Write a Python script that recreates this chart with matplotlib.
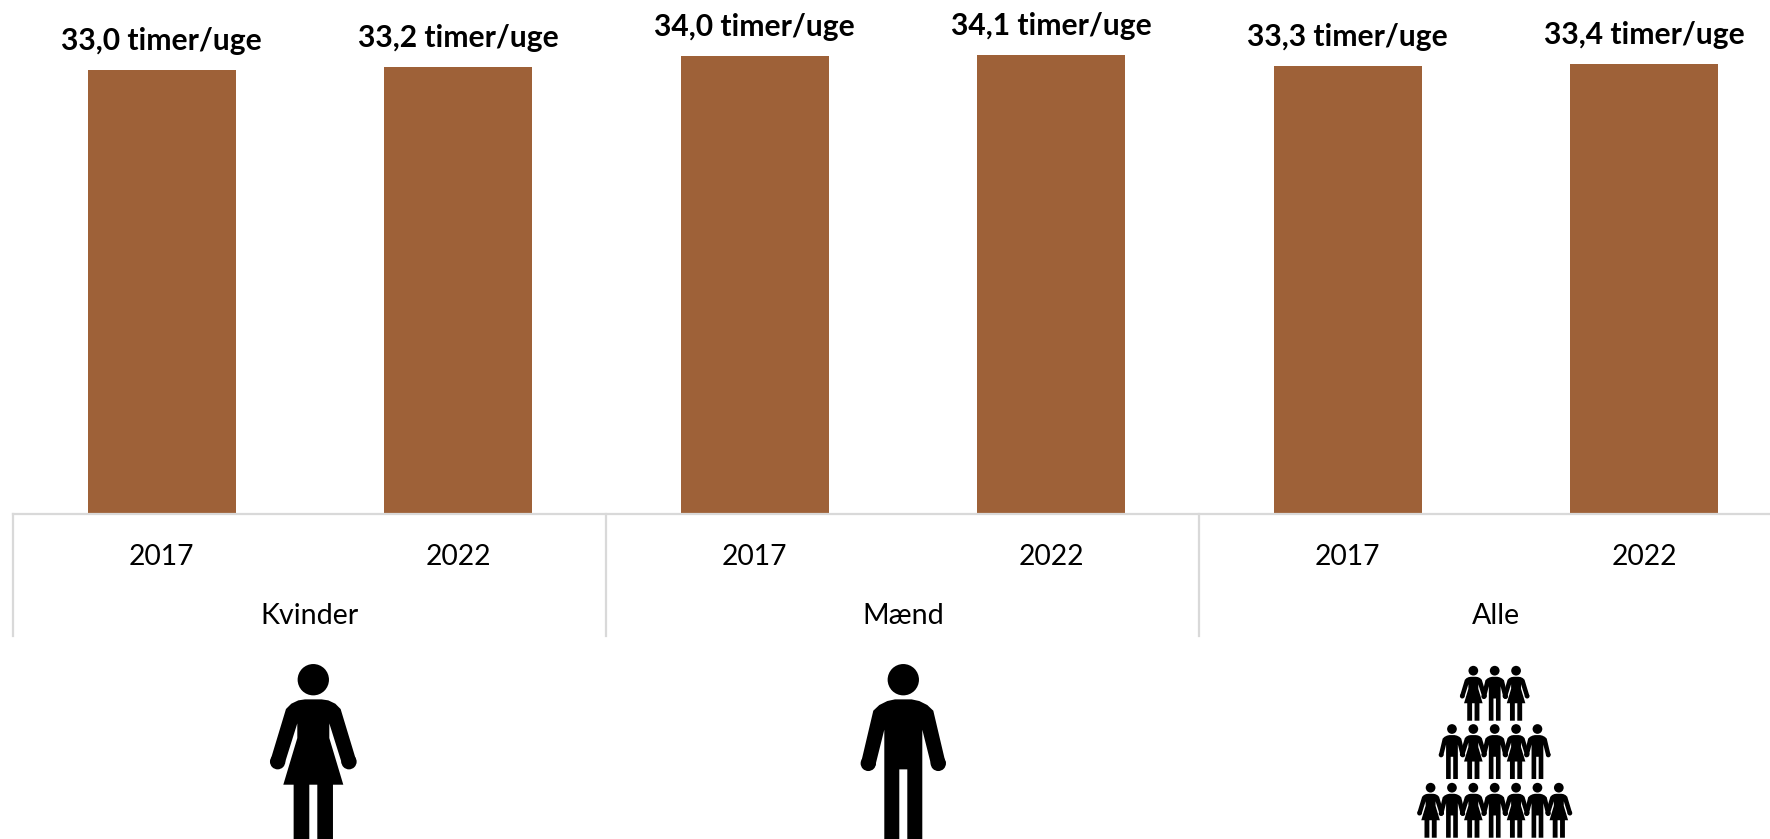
import matplotlib
matplotlib.use("Agg")
from matplotlib import pyplot as plt
from matplotlib.patches import Polygon, Circle

plt.rcParams['font.family'] = ['Lato', 'DejaVu Sans']

groups = ["Kvinder", "Mænd", "Alle"]
years = ["2017", "2022", "2017", "2022", "2017", "2022"]
hours = [33.0, 33.2, 34.0, 34.1, 33.3, 33.4]

BAR_COLOR = "#9E6138"
LINE_COLOR = "#D9D9D9"

W, H = 1770, 839
BASE = 513.7      # pixel row of the baseline
PX_PER_HOUR = 13.45
PITCH = 296.5
FIRST = 161.6

# half outlines of the icons, measured from the head centre
woman_half = [(0, 59), (25, 59), (45, 62), (66, 72), (82, 88), (128, 240), (86, 252), (48, 131),
              (48, 175), (90, 315), (59, 315), (59, 484), (12, 484), (12, 315), (0, 315)]
man_half = [(0, 59), (25, 59), (48, 64), (72, 76), (90, 93), (127, 250), (84, 258), (57, 150),
            (57, 484), (12, 484), (12, 269), (0, 269)]
woman_hand = (107, 246)
man_hand = (105, 251)


def person(ax, cx, cy, scale, kind):
    half = woman_half if kind == "W" else man_half
    hand = woman_hand if kind == "W" else man_hand
    pts = [(cx + x * scale, cy + y * scale) for x, y in half]
    pts += [(cx - x * scale, cy + y * scale) for x, y in reversed(half)]
    ax.add_patch(Polygon(pts, closed=True, fc="black", ec="none"))
    ax.add_patch(Circle((cx, cy), 47 * scale, fc="black", ec="none"))
    for sign in (1, -1):
        ax.add_patch(Circle((cx + sign * hand[0] * scale, cy + hand[1] * scale),
                            23 * scale, fc="black", ec="none"))


fig = plt.figure(figsize=(W / 100, H / 100), dpi=100, facecolor="white")
ax = fig.add_axes([0, (H - BASE) / H, 1, BASE / H])

x = list(range(len(hours)))
ax.bar(x, hours, width=148 / PITCH, color=BAR_COLOR)
ax.set_xlim(-FIRST / PITCH, (W - FIRST) / PITCH)
ax.set_ylim(0, BASE / PX_PER_HOUR)

for i, v in zip(x, hours):
    label = f"{v:.1f}".replace(".", ",") + " timer/uge"
    ax.annotate(label, (i, v), xytext=(0, 20.9), textcoords="offset points",
                ha="center", va="center", fontsize=21.6, fontweight="bold", color="black")

ax.set_xticks(x)
ax.set_xticklabels(years, fontsize=20.3, color="black")
ax.tick_params(axis="x", length=0, pad=21.5)
ax.set_yticks([])
for s in ["top", "left", "right"]:
    ax.spines[s].set_visible(False)
ax.spines["bottom"].set_color(LINE_COLOR)
ax.spines["bottom"].set_linewidth(1.6)
ax.spines["bottom"].set_bounds(-0.5, (W - FIRST) / PITCH)

# group separators and names under the year labels
trans = ax.get_xaxis_transform()
for k, name in enumerate(groups):
    left = 2 * k - 0.5
    ax.plot([left, left], [0, -122.3 / BASE], transform=trans, color=LINE_COLOR,
            lw=1.6, clip_on=False)
    ax.text(left + 1, -102.5 / BASE, name, transform=trans, ha="center", va="center",
            fontsize=20.6, color="black")

# icons, in pixel coordinates
ov = fig.add_axes([0, 0, 1, 1], facecolor="none")
ov.set_xlim(0, W)
ov.set_ylim(H, 0)
ov.axis("off")

person(ov, 313.3, 679.7, 1 / 3, "W")
person(ov, 903.3, 679.7, 1 / 3, "M")

crowd = [(670.7, "WMW"), (729.0, "MWMWM"), (787.7, "WMWMWMW")]
for cy, row in crowd:
    for n, kind in enumerate(row):
        cx = 1494.7 + (n - (len(row) - 1) / 2) * 21.37
        person(ov, cx, cy, 0.31 / 3, kind)

fig.savefig("out.png", dpi=100)
